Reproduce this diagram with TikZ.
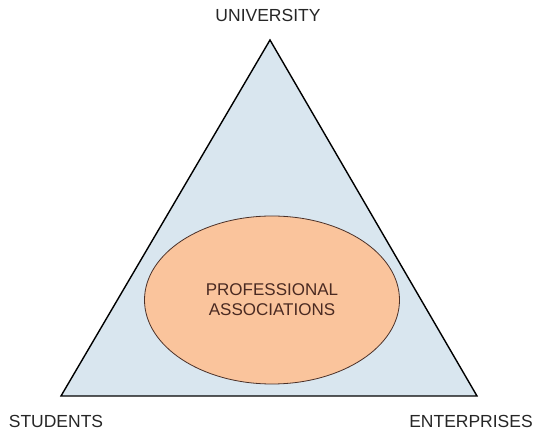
\documentclass[tikz,border=0pt]{standalone}
\usepackage{fontspec}
\setmainfont{Liberation Sans}
\usetikzlibrary{shapes.geometric}
\definecolor{tribg}{HTML}{D9E6EF}
\definecolor{ellbg}{HTML}{FAC49C}
\definecolor{elltext}{HTML}{4A2A22}
\definecolor{ellborder}{HTML}{4A3028}
\tikzset{
  label/.style={font=\fontsize{17.5}{20}\selectfont, text=black!85, inner sep=0pt},
  ell/.style={ellipse, draw=ellborder, line width=0.8pt, fill=ellbg, minimum width=255pt, minimum height=168pt, inner sep=0pt},
  tri/.style={draw=black, line width=1.4pt, fill=tribg, line join=miter}
}
\begin{document}
\begin{tikzpicture}[x=1pt,y=1pt]
\useasboundingbox (0,0) rectangle (542,434);
\coordinate (top) at (270,394);
\coordinate (bl) at (61,38);
\coordinate (br) at (477,38);
\draw[tri] (top) -- (bl) -- (br) -- cycle;
\node[ell, align=center, text=elltext, font=\fontsize{17}{20}\selectfont] (pa) at (272,134) {PROFESSIONAL\\ASSOCIATIONS};
\node[label] (uni) at (268,419) {UNIVERSITY};
\node[label] (stu) at (56,13) {STUDENTS};
\node[label] (ent) at (471,13) {ENTERPRISES};
\end{tikzpicture}
\end{document}
